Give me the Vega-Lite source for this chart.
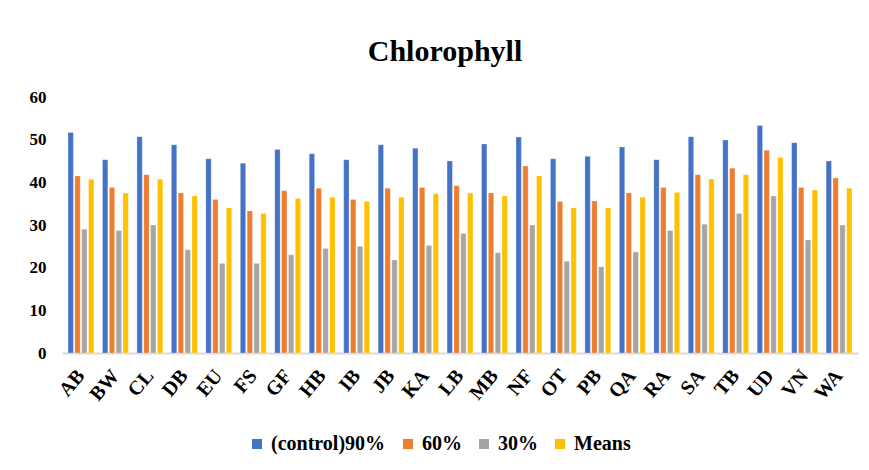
{
  "$schema": "https://vega.github.io/schema/vega-lite/v6.json",
  "autosize": {"type": "none"},
  "padding": {"left": 62, "top": 97, "right": 11, "bottom": 117},
  "width": 796,
  "height": 256,
  "background": "white",
  "title": {
    "text": "Chlorophyll",
    "font": "Liberation Serif",
    "fontSize": 30,
    "fontWeight": "bold",
    "color": "#000000",
    "anchor": "middle",
    "dx": -15,
    "offset": 21
  },
  "data": {
    "values": [
      {"site": "AB", "treatment": "(control)90%", "value": 51.7},
      {"site": "AB", "treatment": "60%", "value": 41.5},
      {"site": "AB", "treatment": "30%", "value": 29.0},
      {"site": "AB", "treatment": "Means", "value": 40.7},
      {"site": "BW", "treatment": "(control)90%", "value": 45.3},
      {"site": "BW", "treatment": "60%", "value": 38.8},
      {"site": "BW", "treatment": "30%", "value": 28.7},
      {"site": "BW", "treatment": "Means", "value": 37.5},
      {"site": "CL", "treatment": "(control)90%", "value": 50.7},
      {"site": "CL", "treatment": "60%", "value": 41.8},
      {"site": "CL", "treatment": "30%", "value": 30.0},
      {"site": "CL", "treatment": "Means", "value": 40.7},
      {"site": "DB", "treatment": "(control)90%", "value": 48.8},
      {"site": "DB", "treatment": "60%", "value": 37.5},
      {"site": "DB", "treatment": "30%", "value": 24.2},
      {"site": "DB", "treatment": "Means", "value": 36.8},
      {"site": "EU", "treatment": "(control)90%", "value": 45.5},
      {"site": "EU", "treatment": "60%", "value": 36.0},
      {"site": "EU", "treatment": "30%", "value": 21.0},
      {"site": "EU", "treatment": "Means", "value": 34.0},
      {"site": "FS", "treatment": "(control)90%", "value": 44.5},
      {"site": "FS", "treatment": "60%", "value": 33.3},
      {"site": "FS", "treatment": "30%", "value": 21.0},
      {"site": "FS", "treatment": "Means", "value": 32.7},
      {"site": "GF", "treatment": "(control)90%", "value": 47.7},
      {"site": "GF", "treatment": "60%", "value": 38.0},
      {"site": "GF", "treatment": "30%", "value": 23.0},
      {"site": "GF", "treatment": "Means", "value": 36.2},
      {"site": "HB", "treatment": "(control)90%", "value": 46.7},
      {"site": "HB", "treatment": "60%", "value": 38.6},
      {"site": "HB", "treatment": "30%", "value": 24.5},
      {"site": "HB", "treatment": "Means", "value": 36.5},
      {"site": "IB", "treatment": "(control)90%", "value": 45.3},
      {"site": "IB", "treatment": "60%", "value": 36.0},
      {"site": "IB", "treatment": "30%", "value": 25.0},
      {"site": "IB", "treatment": "Means", "value": 35.5},
      {"site": "JB", "treatment": "(control)90%", "value": 48.8},
      {"site": "JB", "treatment": "60%", "value": 38.6},
      {"site": "JB", "treatment": "30%", "value": 21.8},
      {"site": "JB", "treatment": "Means", "value": 36.5},
      {"site": "KA", "treatment": "(control)90%", "value": 48.0},
      {"site": "KA", "treatment": "60%", "value": 38.8},
      {"site": "KA", "treatment": "30%", "value": 25.2},
      {"site": "KA", "treatment": "Means", "value": 37.3},
      {"site": "LB", "treatment": "(control)90%", "value": 45.0},
      {"site": "LB", "treatment": "60%", "value": 39.2},
      {"site": "LB", "treatment": "30%", "value": 28.0},
      {"site": "LB", "treatment": "Means", "value": 37.5},
      {"site": "MB", "treatment": "(control)90%", "value": 49.0},
      {"site": "MB", "treatment": "60%", "value": 37.5},
      {"site": "MB", "treatment": "30%", "value": 23.5},
      {"site": "MB", "treatment": "Means", "value": 36.8},
      {"site": "NF", "treatment": "(control)90%", "value": 50.6},
      {"site": "NF", "treatment": "60%", "value": 43.8},
      {"site": "NF", "treatment": "30%", "value": 30.0},
      {"site": "NF", "treatment": "Means", "value": 41.5},
      {"site": "OT", "treatment": "(control)90%", "value": 45.5},
      {"site": "OT", "treatment": "60%", "value": 35.5},
      {"site": "OT", "treatment": "30%", "value": 21.5},
      {"site": "OT", "treatment": "Means", "value": 34.0},
      {"site": "PB", "treatment": "(control)90%", "value": 46.1},
      {"site": "PB", "treatment": "60%", "value": 35.6},
      {"site": "PB", "treatment": "30%", "value": 20.2},
      {"site": "PB", "treatment": "Means", "value": 34.0},
      {"site": "QA", "treatment": "(control)90%", "value": 48.3},
      {"site": "QA", "treatment": "60%", "value": 37.5},
      {"site": "QA", "treatment": "30%", "value": 23.7},
      {"site": "QA", "treatment": "Means", "value": 36.5},
      {"site": "RA", "treatment": "(control)90%", "value": 45.3},
      {"site": "RA", "treatment": "60%", "value": 38.8},
      {"site": "RA", "treatment": "30%", "value": 28.7},
      {"site": "RA", "treatment": "Means", "value": 37.6},
      {"site": "SA", "treatment": "(control)90%", "value": 50.7},
      {"site": "SA", "treatment": "60%", "value": 41.8},
      {"site": "SA", "treatment": "30%", "value": 30.2},
      {"site": "SA", "treatment": "Means", "value": 40.8},
      {"site": "TB", "treatment": "(control)90%", "value": 49.9},
      {"site": "TB", "treatment": "60%", "value": 43.3},
      {"site": "TB", "treatment": "30%", "value": 32.7},
      {"site": "TB", "treatment": "Means", "value": 41.8},
      {"site": "UD", "treatment": "(control)90%", "value": 53.3},
      {"site": "UD", "treatment": "60%", "value": 47.5},
      {"site": "UD", "treatment": "30%", "value": 36.8},
      {"site": "UD", "treatment": "Means", "value": 45.8},
      {"site": "VN", "treatment": "(control)90%", "value": 49.3},
      {"site": "VN", "treatment": "60%", "value": 38.8},
      {"site": "VN", "treatment": "30%", "value": 26.5},
      {"site": "VN", "treatment": "Means", "value": 38.2},
      {"site": "WA", "treatment": "(control)90%", "value": 45.0},
      {"site": "WA", "treatment": "60%", "value": 41.0},
      {"site": "WA", "treatment": "30%", "value": 30.0},
      {"site": "WA", "treatment": "Means", "value": 38.6}
    ]
  },
  "mark": {"type": "bar", "stroke": "white", "strokeWidth": 0.5, "strokeOpacity": 0.5},
  "encoding": {
    "x": {
      "field": "site",
      "type": "nominal",
      "sort": null,
      "title": null,
      "scale": {"paddingInner": 0.25, "paddingOuter": 0.175},
      "axis": {
        "labelAngle": -50,
        "labelFont": "Liberation Serif",
        "labelFontSize": 20,
        "labelFontWeight": "bold",
        "labelColor": "#000000",
        "labelPadding": 19,
        "ticks": false,
        "domainColor": "#d9d9d9",
        "domainWidth": 2,
        "grid": false
      }
    },
    "xOffset": {
      "field": "treatment",
      "type": "nominal",
      "sort": ["(control)90%", "60%", "30%", "Means"],
      "scale": {"paddingInner": 0.22}
    },
    "y": {
      "field": "value",
      "type": "quantitative",
      "title": null,
      "scale": {"domain": [0, 60]},
      "axis": {
        "values": [0, 10, 20, 30, 40, 50, 60],
        "labelFont": "Liberation Serif",
        "labelFontSize": 17,
        "labelFontWeight": "bold",
        "labelColor": "#000000",
        "labelPadding": 16,
        "ticks": false,
        "domain": false,
        "grid": false
      }
    },
    "color": {
      "field": "treatment",
      "type": "nominal",
      "sort": ["(control)90%", "60%", "30%", "Means"],
      "scale": {
        "domain": ["(control)90%", "60%", "30%", "Means"],
        "range": ["#4472C4", "#ED7D31", "#A5A5A5", "#FFC000"]
      },
      "legend": {
        "title": null,
        "orient": "none",
        "legendX": 185,
        "legendY": 337,
        "direction": "horizontal",
        "symbolType": "square",
        "symbolSize": 100,
        "symbolStrokeWidth": 0,
        "labelFont": "Liberation Serif",
        "labelFontSize": 20,
        "labelFontWeight": "bold",
        "labelColor": "#000000",
        "labelOffset": 4,
        "columnPadding": 12
      }
    }
  },
  "config": {
    "view": {"stroke": null}
  }
}
